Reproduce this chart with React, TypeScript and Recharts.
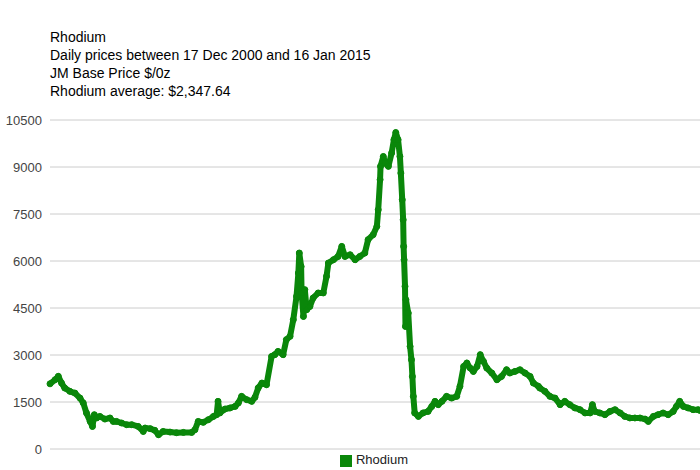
import React from 'react';
import { LineChart, Line, XAxis, YAxis, CartesianGrid, Legend } from 'recharts';

// Fractional year of each sampled trading day (17 Dec 2000 .. 16 Jan 2015)
const years: number[] = [
  2000.96, 2001.07, 2001.14, 2001.21, 2001.28, 2001.39, 2001.5, 2001.61, 2001.68, 2001.75,
  2001.83, 2001.88, 2001.92, 2001.97, 2002.04, 2002.15, 2002.26, 2002.33, 2002.4, 2002.51,
  2002.62, 2002.73, 2002.87, 2002.98, 2003.02, 2003.13, 2003.23, 2003.31, 2003.41, 2003.56,
  2003.7, 2003.85, 2004.03, 2004.1, 2004.17, 2004.28, 2004.39, 2004.5, 2004.57, 2004.6,
  2004.64, 2004.75, 2004.86, 2004.97, 2005.04, 2005.11, 2005.22, 2005.33, 2005.4, 2005.47,
  2005.55, 2005.65, 2005.76, 2005.83, 2005.9, 2006.01, 2006.08, 2006.16, 2006.23, 2006.3,
  2006.34, 2006.36, 2006.4, 2006.41, 2006.45, 2006.48, 2006.52, 2006.59, 2006.66, 2006.77,
  2006.88, 2006.95, 2006.99, 2007.1, 2007.2, 2007.28, 2007.35, 2007.46, 2007.57, 2007.67,
  2007.78, 2007.85, 2007.96, 2008.04, 2008.07, 2008.11, 2008.12, 2008.18, 2008.22, 2008.29,
  2008.36, 2008.41, 2008.45, 2008.5, 2008.54, 2008.56, 2008.59, 2008.61, 2008.62, 2008.63,
  2008.65, 2008.66, 2008.67, 2008.72, 2008.76, 2008.79, 2008.81, 2008.83, 2008.86, 2008.94,
  2009.04, 2009.15, 2009.23, 2009.3, 2009.37, 2009.45, 2009.55, 2009.66, 2009.77, 2009.84,
  2009.92, 2009.99, 2010.06, 2010.13, 2010.21, 2010.28, 2010.35, 2010.42, 2010.53, 2010.64,
  2010.74, 2010.85, 2010.92, 2011.03, 2011.14, 2011.25, 2011.36, 2011.43, 2011.54, 2011.57,
  2011.68, 2011.79, 2011.9, 2012.01, 2012.11, 2012.22, 2012.33, 2012.44, 2012.55, 2012.66,
  2012.71, 2012.76, 2012.87, 2012.98, 2013.09, 2013.2, 2013.31, 2013.41, 2013.52, 2013.63,
  2013.74, 2013.85, 2013.92, 2014.03, 2014.13, 2014.24, 2014.35, 2014.46, 2014.53, 2014.6,
  2014.68, 2014.78, 2014.89, 2015.0, 2015.04,
];

// Rhodium JM base price, $/oz
const prices: number[] = [
  2080, 2210, 2320, 2105, 1945, 1840, 1785, 1625, 1470, 1150,
  880, 720, 1095, 990, 1040, 955, 990, 880, 880, 830,
  775, 775, 720, 560, 670, 650, 595, 455, 560, 540,
  520, 530, 530, 615, 880, 850, 935, 1040, 1095, 1520,
  1150, 1275, 1310, 1360, 1470, 1680, 1575, 1520, 1650, 1950,
  2105, 2050, 2955, 3010, 3115, 3010, 3490, 3595, 4125, 4870,
  5615, 6255, 5825, 4980, 4230, 5085, 4445, 4550, 4820, 4980,
  4980, 5510, 5935, 6040, 6145, 6465, 6145, 6200, 6040, 6145,
  6255, 6680, 6840, 7105, 7635, 8595, 9020, 9335, 9125, 9020,
  9445, 9870, 10100, 9870, 9335, 8805, 7955, 7315, 6465, 6040,
  5190, 3910, 4765, 4340, 3275, 2850, 2315, 1680, 1150, 1040,
  1150, 1200, 1360, 1520, 1415, 1520, 1680, 1625, 1680, 2000,
  2635, 2745, 2585, 2475, 2635, 3010, 2795, 2585, 2425, 2210,
  2315, 2530, 2425, 2475, 2530, 2425, 2315, 2105, 2000, 1945,
  1840, 1680, 1625, 1415, 1520, 1415, 1310, 1255, 1150, 1150,
  1415, 1200, 1150, 1095, 1200, 1255, 1150, 1040, 990, 990,
  990, 955, 880, 1040, 1095, 1150, 1095, 1200, 1360, 1520,
  1360, 1310, 1255, 1255, 1230,
];

const yTicks: number[] = [0, 1500, 3000, 4500, 6000, 7500, 9000, 10500];

const titleLines: string[] = [
  'Rhodium',
  'Daily prices between 17 Dec 2000 and 16 Jan 2015',
  'JM Base Price $/0z',
  'Rhodium average: $2,347.64',
];

const data = years.map((t, i) => ({ t, Rhodium: prices[i] }));

const FONT = 'Arial, "Liberation Sans", sans-serif';
const GREEN = '#0a870a';

export default function App() {
  return (
    <div style={{ position: 'absolute', left: 0, top: 0, width: 700, height: 470, background: '#fff', fontFamily: FONT }}>
      <div style={{ position: 'absolute', left: 50, top: 28, fontSize: 14, lineHeight: '18px', color: '#000', whiteSpace: 'nowrap' }}>
        {titleLines.map((l) => (
          <div key={l}>{l}</div>
        ))}
      </div>
      <LineChart width={700} height={470} data={data} margin={{ top: 120, right: 0, bottom: 21, left: 0 }}>
        <CartesianGrid vertical={false} stroke="#cccccc" />
        <XAxis
          dataKey="t"
          type="number"
          domain={[2000.96, 2015.04]}
          tick={false}
          tickLine={false}
          height={0}
          axisLine={{ stroke: '#333333', strokeWidth: 1 }}
        />
        <YAxis
          width={50}
          domain={[0, 10500]}
          ticks={yTicks}
          interval={0}
          axisLine={false}
          tickLine={false}
          tick={{ fill: '#444444', fontSize: 13, fontFamily: FONT }}
        />
        <Legend
          verticalAlign="middle"
          align="center"
          layout="horizontal"
          iconType="square"
          iconSize={12}
          wrapperStyle={{ top: 452, left: 54, width: 650, fontSize: 13, fontFamily: FONT }}
          formatter={(v) => <span style={{ color: '#222' }}>{v}</span>}
        />
        <Line
          type="linear"
          dataKey="Rhodium"
          stroke={GREEN}
          strokeWidth={6}
          strokeLinejoin="round"
          dot={{ r: 3, fill: GREEN, stroke: GREEN, strokeWidth: 1 }}
          isAnimationActive={false}
        />
      </LineChart>
    </div>
  );
}
